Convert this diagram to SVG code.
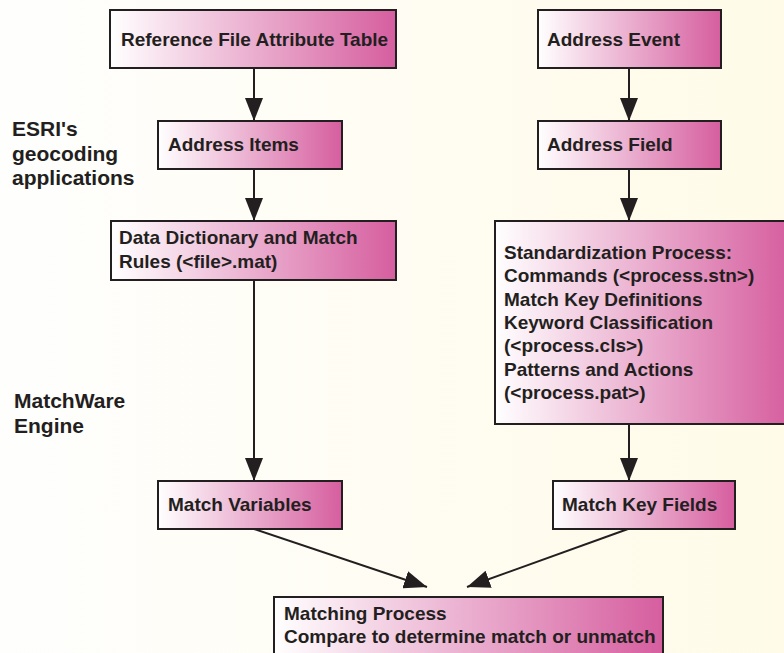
<svg xmlns="http://www.w3.org/2000/svg" width="784" height="653" viewBox="0 0 784 653">
<defs>
<linearGradient id="bg" x1="0" y1="0" x2="1" y2="0">
<stop offset="0" stop-color="#fefefd"/>
<stop offset="1" stop-color="#fffbe8"/>
</linearGradient>
<linearGradient id="boxg" x1="0" y1="0" x2="1" y2="0">
<stop offset="0" stop-color="#ffffff"/>
<stop offset="1" stop-color="#d65e9f"/>
</linearGradient>
<marker id="arr" markerUnits="userSpaceOnUse" markerWidth="24" markerHeight="18" viewBox="0 0 24 18" refX="23" refY="9" orient="auto">
<path d="M0,0 L23,9 L0,18 Z" fill="#231f20"/>
</marker>
</defs>
<style>
.box{fill:url(#boxg);stroke:#231f20;stroke-width:2}
.t{font-family:"Liberation Sans",Arial,sans-serif;font-weight:bold;font-size:19px;fill:#231f20}
.lab{font-family:"Liberation Sans",Arial,sans-serif;font-weight:bold;font-size:21px;fill:#231f20}
.c{stroke:#231f20;stroke-width:2;fill:none;marker-end:url(#arr)}
</style>
<rect x="0" y="0" width="784" height="653" fill="url(#bg)"/>

<g id="labels">
<text class="lab" x="12" y="136">ESRI's</text>
<text class="lab" x="12" y="160.5">geocoding</text>
<text class="lab" x="12" y="185">applications</text>
<text class="lab" x="14" y="408">MatchWare</text>
<text class="lab" x="14" y="433">Engine</text>
</g>

<g id="connectors">
<line class="c" x1="254" y1="69" x2="254" y2="121"/>
<line class="c" x1="629" y1="69" x2="629" y2="121"/>
<line class="c" x1="254" y1="170" x2="254" y2="221"/>
<line class="c" x1="629" y1="170" x2="629" y2="221"/>
<line class="c" x1="254" y1="281" x2="254" y2="481"/>
<line class="c" x1="629" y1="425" x2="629" y2="481"/>
<line class="c" x1="254" y1="529" x2="427" y2="587"/>
<line class="c" x1="628" y1="529" x2="467" y2="587"/>
</g>

<g id="ref-table">
<rect class="box" x="110" y="10" width="286" height="58"/>
<text class="t" x="121" y="46">Reference File Attribute Table</text>
</g>
<g id="address-event">
<rect class="box" x="538" y="10" width="183" height="58"/>
<text class="t" x="547" y="46">Address Event</text>
</g>
<g id="address-items">
<rect class="box" x="158" y="121" width="184" height="48"/>
<text class="t" x="168" y="151">Address Items</text>
</g>
<g id="address-field">
<rect class="box" x="538" y="121" width="183" height="48"/>
<text class="t" x="547" y="151">Address Field</text>
</g>
<g id="data-dictionary">
<rect class="box" x="111" y="221" width="285" height="59"/>
<text class="t" x="119" y="244">Data Dictionary and Match</text>
<text class="t" x="119" y="268">Rules (&lt;file&gt;.mat)</text>
</g>
<g id="standardization">
<rect class="box" x="495" y="221" width="295" height="203"/>
<text class="t" x="504" y="259">Standardization Process:</text>
<text class="t" x="504" y="282.3">Commands (&lt;process.stn&gt;)</text>
<text class="t" x="504" y="305.6">Match Key Definitions</text>
<text class="t" x="504" y="328.9">Keyword Classification</text>
<text class="t" x="504" y="352.2">(&lt;process.cls&gt;)</text>
<text class="t" x="504" y="375.5">Patterns and Actions</text>
<text class="t" x="504" y="398.8">(&lt;process.pat&gt;)</text>
</g>
<g id="match-variables">
<rect class="box" x="158" y="481" width="184" height="48"/>
<text class="t" x="168" y="511">Match Variables</text>
</g>
<g id="match-key-fields">
<rect class="box" x="553" y="481" width="182" height="48"/>
<text class="t" x="562" y="511">Match Key Fields</text>
</g>
<g id="matching-process">
<rect class="box" x="274" y="597" width="389" height="70"/>
<text class="t" x="284" y="620">Matching Process</text>
<text class="t" x="284" y="643">Compare to determine match or unmatch</text>
</g>
</svg>
